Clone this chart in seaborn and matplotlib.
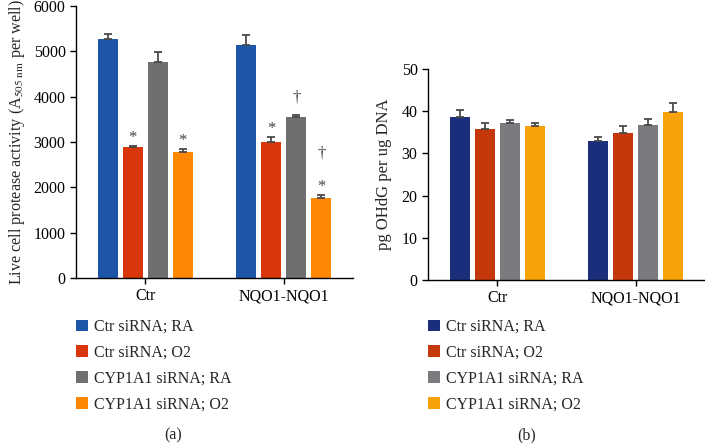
import numpy as np
import pandas as pd
import seaborn as sns
import matplotlib.pyplot as plt

# groups on the x axis and the four siRNA / oxygen conditions
groups = ["Ctr", "NQO1-NQO1"]
conditions = ["Ctr siRNA; RA", "Ctr siRNA; O2", "CYP1A1 siRNA; RA", "CYP1A1 siRNA; O2"]

# panel (a): live cell protease activity, rows = conditions, cols = groups
a_mean = [[5270, 5150], [2890, 2995], [4775, 3545], [2775, 1775]]
a_err = [[110, 200], [15, 110], [210, 40], [60, 50]]
a_marks = [["", ""], ["*", "*"], ["", "†"], ["*", "*†"]]

# panel (b): pg OHdG per ug DNA
b_mean = [[38.7, 32.9], [35.7, 34.9], [37.1, 36.8], [36.4, 39.7]]
b_err = [[1.7, 1.1], [1.6, 1.6], [0.7, 1.4], [0.8, 2.2]]

colors_a = ["#1d56a6", "#d8360b", "#6d6f71", "#fe8803"]
colors_b = ["#1b2e7c", "#c5380b", "#797b7e", "#f8a20a"]

sns.set_style("ticks")
plt.rcParams["font.family"] = ["Liberation Serif", "DejaVu Serif"]
plt.rcParams["mathtext.fontset"] = "stix"
plt.rcParams["font.size"] = 11.5


def long_table(mean):
    rows = []
    for i, cond in enumerate(conditions):
        for j, g in enumerate(groups):
            rows.append({"group": g, "condition": cond, "value": mean[i][j]})
    return pd.DataFrame(rows)


def draw_panel(ax, mean, err, colors, marks=None):
    df = long_table(mean)
    sns.barplot(data=df, x="group", y="value", hue="condition", order=groups,
                hue_order=conditions, palette=colors, saturation=1, width=0.72,
                gap=0.2, errorbar=None, linewidth=0, ax=ax)
    # one-sided error bars on top of each bar
    bar_groups = list(ax.containers)
    for i, cont in enumerate(bar_groups):
        for j, bar in enumerate(cont):
            x = bar.get_x() + bar.get_width() / 2
            h = bar.get_height()
            ax.errorbar(x, h, yerr=[[0], [err[i][j]]], fmt="none",
                        ecolor="#4a4a4a", elinewidth=1.3, capsize=3.2, capthick=1.3)
            if marks:
                base = {"*": 3, "†": 10}
                for k, ch in enumerate(marks[i][j]):
                    off = base[ch] + 17 * k
                    ax.annotate(ch, (x, h + err[i][j]), xytext=(0, off),
                                textcoords="offset points", ha="center",
                                va="baseline", color="#444444", fontsize=12)
    ax.set_xlim(-0.5, 1.5)
    ax.set_xlabel("")
    sns.despine(ax=ax)
    for s in ["left", "bottom"]:
        ax.spines[s].set_linewidth(1.0)
        ax.spines[s].set_color("black")
    ax.tick_params(length=4, width=1.0, colors="black")


fig = plt.figure(figsize=(7.05, 4.43), dpi=100)
ax1 = fig.add_axes([76 / 705, 165 / 443, 277 / 705, 272 / 443])
ax2 = fig.add_axes([428 / 705, 163 / 443, 277 / 705, 211 / 443])

draw_panel(ax1, a_mean, a_err, colors_a, a_marks)
ax1.set_ylim(0, 6000)
ax1.set_yticks(np.arange(0, 6001, 1000))
ax1.set_ylabel(r"Live cell protease activity (A$_{\mathrm{505\ nm}}$ per well)",
               fontsize=11.6, labelpad=5)

draw_panel(ax2, b_mean, b_err, colors_b)
ax2.set_ylim(0, 50)
ax2.set_yticks(np.arange(0, 51, 10))
ax2.set_ylabel("pg OHdG per ug DNA", fontsize=12, labelpad=7)

for ax, x0 in [(ax1, 76), (ax2, 428)]:
    sns.move_legend(ax, loc="upper left", bbox_to_anchor=(x0 / 705, 1 - 319 / 443),
                    bbox_transform=fig.transFigure, title=None, frameon=False,
                    borderpad=0, borderaxespad=0, handlelength=0.75,
                    handleheight=0.75, handletextpad=0.35, labelspacing=0.62,
                    fontsize=11.5)

fig.text(173 / 705, 1 - 435 / 443, "(a)", ha="center", va="center", fontsize=11.5)
fig.text(527 / 705, 1 - 435 / 443, "(b)", ha="center", va="center", fontsize=11.5)

fig.savefig("out.png", dpi=100)
